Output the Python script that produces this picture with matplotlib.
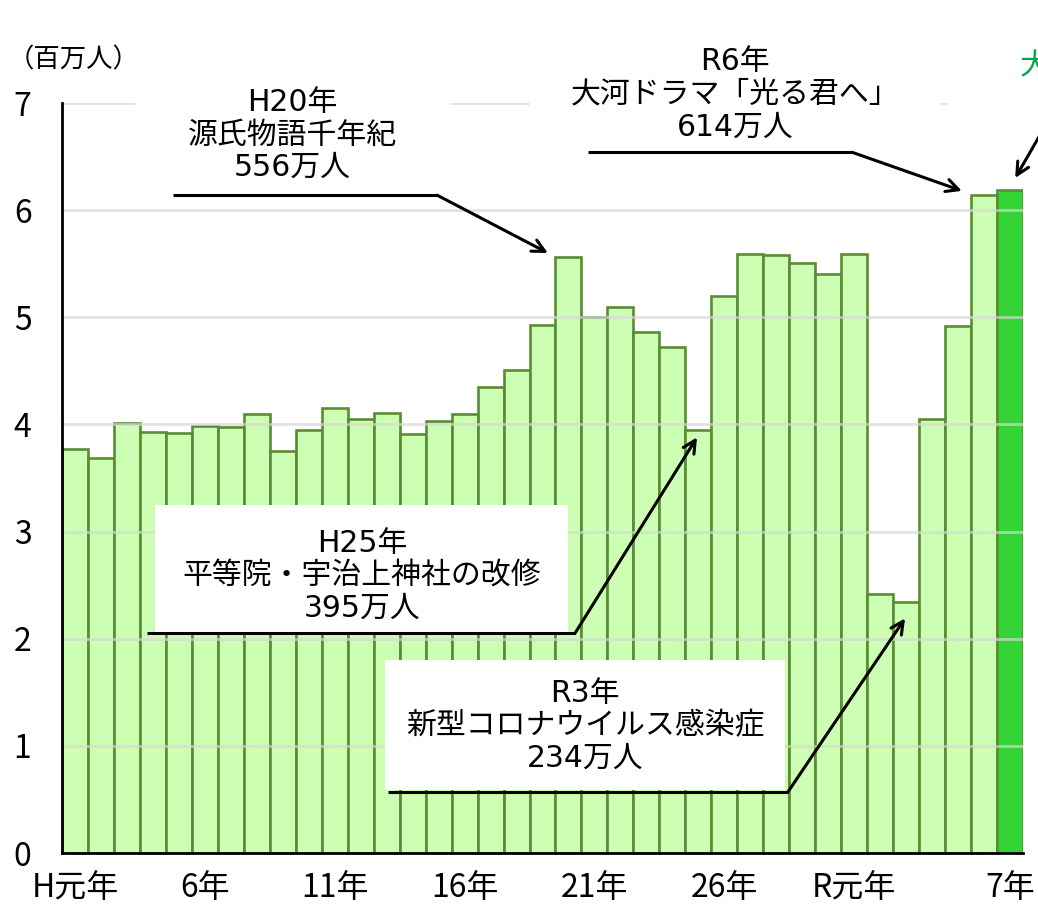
import matplotlib
matplotlib.use("Agg")
import matplotlib.pyplot as plt
from matplotlib.patches import Rectangle
from matplotlib.lines import Line2D

plt.rcParams['font.family'] = ['Noto Sans CJK JP', 'DejaVu Sans']

# ---- data (millions of visitors) ----
years = ["H元年", "H2", "H3", "H4", "H5", "6年", "H7", "H8", "H9", "H10",
         "11年", "H12", "H13", "H14", "H15", "16年", "H17", "H18", "H19", "H20",
         "21年", "H22", "H23", "H24", "H25", "26年", "H27", "H28", "H29", "H30",
         "R元年", "R2", "R3", "R4", "R5", "R6", "7年"]
visitors = [3.77, 3.69, 4.01, 3.93, 3.92, 3.99, 3.98, 4.10, 3.75, 3.95,
            4.15, 4.05, 4.11, 3.91, 4.03, 4.10, 4.35, 4.51, 4.93, 5.56,
            5.00, 5.10, 4.86, 4.72, 3.95, 5.20, 5.59, 5.58, 5.51, 5.40,
            5.59, 2.42, 2.34, 4.05, 4.92, 6.14, 6.19]
shown_ticks = [0, 5, 10, 15, 20, 25, 30, 36]
yticks = [0, 1, 2, 3, 4, 5, 6, 7]

ann_h20 = "H20年\n源氏物語千年紀\n556万人"
ann_r6 = "R6年\n大河ドラマ「光る君へ」\n614万人"
ann_h25 = "H25年\n平等院・宇治上神社の改修\n395万人"
ann_r3 = "R3年\n新型コロナウイルス感染症\n234万人"
ann_r7 = "大"

light_fill = "#CCFFB3"
dark_fill = "#33D433"
edge = "#5A8C34"

fig = plt.figure(figsize=(10.38, 9.17), dpi=100)
ax = fig.add_axes([62/1038, 64/917, (1023-62)/1038, (853-103)/917])

x = list(range(len(visitors)))
colors = [light_fill] * (len(visitors) - 1) + [dark_fill]
ax.bar(x, visitors, width=1.0, color=colors, edgecolor=edge, linewidth=1.9, zorder=1)

ax.set_xlim(-0.5, len(visitors) - 0.5)
ax.set_ylim(0, 7)
ax.set_yticks(yticks)
ax.set_yticklabels([str(v) for v in yticks])
ax.set_xticks(shown_ticks)
ax.set_xticklabels([years[i] for i in shown_ticks])
ax.tick_params(axis='both', length=0, labelsize=23)
ax.tick_params(axis='y', pad=22)
ax.tick_params(axis='x', pad=14)

ax.yaxis.grid(True, color="#D6D6D6", linewidth=2, alpha=0.7, zorder=1.5)
ax.set_axisbelow(False)
for s in ['top', 'right']:
    ax.spines[s].set_visible(False)
ax.spines['left'].set_linewidth(2)
ax.spines['bottom'].set_linewidth(2)
ax.spines['left'].set_zorder(5)
ax.spines['bottom'].set_zorder(5)

fig.text(8/1038, 1 - 60/917, "（百万人）", fontsize=19, ha='left', va='center')

tfs = 21.5
ann_family = ['DejaVu Sans', 'Noto Sans CJK JP']

def white_box(x0, y0, x1, y1):
    ax.add_patch(Rectangle((x0, y0), x1 - x0, y1 - y0, facecolor='white',
                           edgecolor='none', zorder=3, clip_on=False))

def callout(text, tx, ty, lx0, lx1, ly, ax_, ay_, color='black'):
    ax.text(tx, ty, text, ha='center', va='center', fontsize=tfs, color=color,
            family=ann_family, linespacing=1.15, zorder=6, clip_on=False)
    ax.add_line(Line2D([lx0, lx1], [ly, ly], color='black', lw=2.2, zorder=6,
                       clip_on=False, solid_capstyle='butt'))
    ax.annotate("", xy=(ax_, ay_), xytext=(lx1, ly),
                arrowprops=dict(arrowstyle="->,head_length=0.9,head_width=0.45",
                                color='black', lw=2.2, shrinkA=0, shrinkB=0),
                zorder=6, annotation_clip=False)

# H20
white_box(2.31, 6.14, 14.44, 7.3)
callout(ann_h20, 8.36, 6.70, 3.77, 13.94, 6.14, 18.21, 5.60)
# R6
white_box(17.52, 6.56, 33.3, 7.8)
callout(ann_r6, 25.41, 7.08, 19.75, 29.92, 6.54, 34.15, 6.18)
# H25
white_box(3.08, 2.06, 18.98, 3.25)
callout(ann_h25, 11.05, 2.59, 2.77, 19.25, 2.05, 23.95, 3.88)
# R3
white_box(11.94, 0.59, 27.34, 1.80)
callout(ann_r3, 19.64, 1.185, 12.05, 27.45, 0.57, 31.96, 2.19)
# R7 (cut off at right edge, as in the source)
white_box(33.6, 6.6, 37.5, 7.8)
ax.text(36.39, 7.35, ann_r7, ha='left', va='center', fontsize=tfs, color="#00A651",
        zorder=6, clip_on=False)
ax.annotate("", xy=(36.2, 6.30), xytext=(37.2, 6.72),
            arrowprops=dict(arrowstyle="->,head_length=0.9,head_width=0.45",
                            color='black', lw=2.2, shrinkA=0, shrinkB=0),
            zorder=6, annotation_clip=False)

fig.savefig("out.png", dpi=100)
